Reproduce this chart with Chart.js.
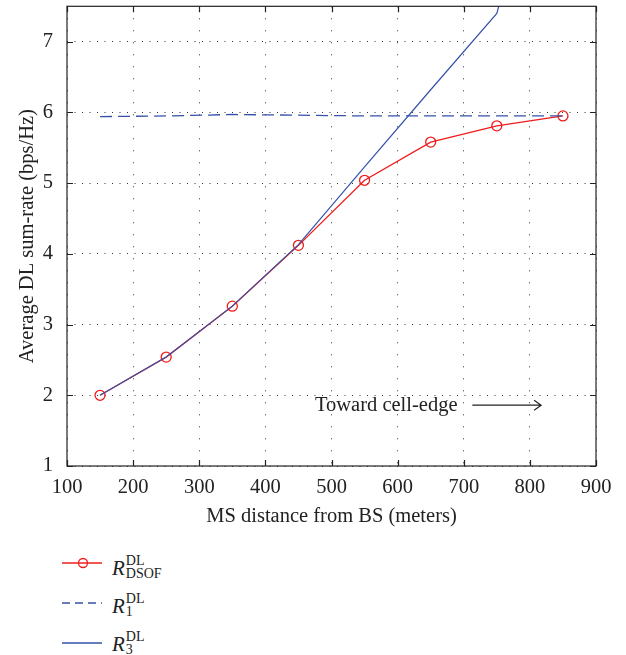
<!DOCTYPE html>
<html>
<head>
<meta charset="utf-8">
<script src="https://cdn.jsdelivr.net/npm/chart.js@4.4.0/dist/chart.umd.min.js"></script>
<style>
  body { margin: 0; background: #fff; font-family: 'Liberation Serif', 'DejaVu Serif', serif; }
  #wrap { position: relative; width: 626px; height: 655px; overflow: hidden; }
  #chart { position: absolute; left: 0; top: 0; }
  .sample { position: absolute; left: 60px; }
  .label { position: absolute; left: 112px; font-size: 21px; line-height: 21px; color: #222; white-space: nowrap; }
  .label i { font-style: italic; }
  .ss { display: inline-flex; flex-direction: column; font-size: 14px; line-height: 13px; vertical-align: 10px; margin-left: 1px; }
</style>
</head>
<body>
<div id="wrap">
  <canvas id="chart" width="626" height="540"></canvas>

  <svg class="sample" style="top:553px" width="46" height="20">
    <line x1="2" y1="10" x2="42" y2="10" stroke="#f01c1c" stroke-width="1.3"/>
    <circle cx="23" cy="10" r="4.5" fill="none" stroke="#f01c1c" stroke-width="1.3"/>
  </svg>
  <div class="label" style="top:554px;"><i>R</i><span class="ss"><span>DL</span><span>DSOF</span></span></div>

  <svg class="sample" style="top:593px" width="46" height="20">
    <line x1="2" y1="10" x2="42" y2="10" stroke="#3552a8" stroke-width="1.3" stroke-dasharray="8 5"/>
  </svg>
  <div class="label" style="top:592px;"><i>R</i><span class="ss"><span>DL</span><span>1</span></span></div>

  <svg class="sample" style="top:633px" width="46" height="20">
    <line x1="2" y1="10" x2="42" y2="10" stroke="#3552a8" stroke-width="1.3"/>
  </svg>
  <div class="label" style="top:630px;"><i>R</i><span class="ss"><span>DL</span><span>3</span></span></div>
</div>

<script>
'use strict';

// ============================================================
// データ
// ============================================================
const distances = [150, 250, 350, 450, 550, 650, 750, 850];
const rDsof     = [2.00, 2.54, 3.26, 4.12, 5.04, 5.58, 5.81, 5.95];
const r1        = [5.94, 5.95, 5.97, 5.96, 5.95, 5.95, 5.95, 5.95];
const r3        = [2.00, 2.54, 3.26, 4.13, 5.23, 6.32, 7.40, 10.8];

const xTicks = [100, 200, 300, 400, 500, 600, 700, 800, 900];
const yTicks = [1, 2, 3, 4, 5, 6, 7];

const RED  = '#f01c1c';
const BLUE = '#3552a8';
const FONT = "'Liberation Serif', 'DejaVu Serif', serif";
const FS   = 20.5;

const toXY = arr => arr.map((v, i) => ({ x: distances[i], y: v }));

// ============================================================
// 枠・内向き目盛・注記
// ============================================================
const framePlugin = {
  id: 'frame',
  afterDraw(chart) {
    const { ctx, chartArea: a, scales: { x, y } } = chart;
    ctx.save();
    ctx.strokeStyle = '#222';
    ctx.lineWidth = 1.2;
    ctx.strokeRect(a.left, a.top, a.right - a.left, a.bottom - a.top);

    const tl = 6;
    ctx.beginPath();
    xTicks.forEach(v => {
      const px = Math.round(x.getPixelForValue(v)) + 0.5;
      ctx.moveTo(px, a.bottom); ctx.lineTo(px, a.bottom - tl);
      ctx.moveTo(px, a.top);    ctx.lineTo(px, a.top + tl);
    });
    yTicks.forEach(v => {
      const py = Math.round(y.getPixelForValue(v)) + 0.5;
      ctx.moveTo(a.left, py);  ctx.lineTo(a.left + tl, py);
      ctx.moveTo(a.right, py); ctx.lineTo(a.right - tl, py);
    });
    ctx.stroke();

    // Toward cell-edge →
    const ty = y.getPixelForValue(1.86);
    ctx.fillStyle = '#222';
    ctx.font = FS + 'px ' + FONT;
    ctx.textAlign = 'left';
    ctx.textBaseline = 'middle';
    ctx.fillText('Toward cell-edge', x.getPixelForValue(475), ty);

    const ax0 = x.getPixelForValue(713);
    const ax1 = x.getPixelForValue(817);
    ctx.lineWidth = 1.2;
    ctx.beginPath();
    ctx.moveTo(ax0, ty); ctx.lineTo(ax1, ty);
    ctx.moveTo(ax1 - 7, ty - 5); ctx.lineTo(ax1, ty); ctx.lineTo(ax1 - 7, ty + 5);
    ctx.stroke();
    ctx.restore();
  },
};

// ============================================================
// チャート
// ============================================================
new Chart(document.getElementById('chart'), {
  type: 'line',
  data: {
    datasets: [
      {
        label: 'R3',
        data: toXY(r3),
        borderColor: BLUE,
        borderWidth: 1.2,
        pointRadius: 0,
        tension: 0,
        order: 0,
      },
      {
        label: 'R1',
        data: toXY(r1),
        borderColor: BLUE,
        borderWidth: 1.3,
        borderDash: [12, 6],
        pointRadius: 0,
        tension: 0,
        order: 1,
      },
      {
        label: 'DSOF',
        data: toXY(rDsof),
        borderColor: RED,
        borderWidth: 1.3,
        pointRadius: 5,
        pointBorderWidth: 1.3,
        pointBorderColor: RED,
        pointBackgroundColor: 'rgba(0,0,0,0)',
        tension: 0,
        order: 2,
      },
    ],
  },
  options: {
    responsive: false,
    animation: false,
    devicePixelRatio: 1,
    layout: { padding: { top: -5, right: 30, left: 0, bottom: 0 } },
    plugins: { legend: { display: false }, tooltip: { enabled: false } },
    scales: {
      x: {
        type: 'linear',
        min: 100,
        max: 900,
        afterBuildTicks(scale) { scale.ticks = xTicks.map(v => ({ value: v })); },
        afterFit(scale) {
          scale.height = 74;
          scale.paddingLeft = 0;
          scale.paddingRight = 0;
        },
        grid: { color: '#333', lineWidth: 1, drawTicks: false },
        border: { display: false, dash: [1, 11] },
        ticks: { padding: 9, color: '#222', font: { family: FONT, size: FS }, maxRotation: 0 },
        title: {
          display: true,
          text: 'MS distance from BS (meters)',
          color: '#222',
          font: { family: FONT, size: FS },
          padding: { top: 0, bottom: 11 },
        },
      },
      y: {
        type: 'linear',
        min: 1,
        max: 7.5,
        afterBuildTicks(scale) { scale.ticks = yTicks.map(v => ({ value: v })); },
        afterFit(scale) {
          scale.width = 67;
          scale.paddingTop = 0;
          scale.paddingBottom = 0;
        },
        grid: { color: '#333', lineWidth: 1, drawTicks: false },
        border: { display: false, dash: [1, 6.5] },
        ticks: { padding: 14, color: '#222', font: { family: FONT, size: FS } },
        title: {
          display: true,
          text: 'Average DL sum-rate (bps/Hz)',
          color: '#222',
          font: { family: FONT, size: FS },
          padding: { top: 15, bottom: 0 },
        },
      },
    },
  },
  plugins: [framePlugin],
});
</script>
</body>
</html>
